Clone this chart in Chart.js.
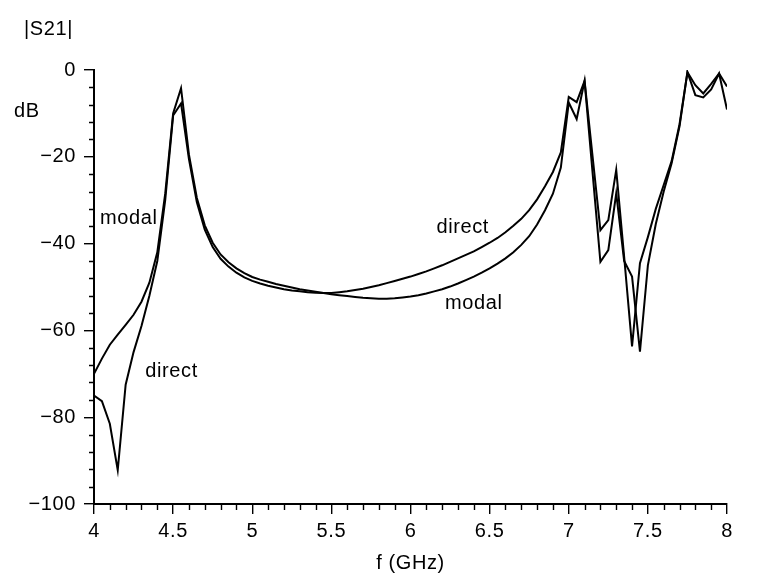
<!DOCTYPE html>
<html>
<head>
<meta charset="utf-8">
<script src="https://cdn.jsdelivr.net/npm/chart.js@4.4.1/dist/chart.umd.min.js"></script>
<style>
  html, body { margin: 0; padding: 0; background: #fff; }
  canvas { display: block; }
</style>
</head>
<body>
<canvas id="s21Chart" width="776" height="581"></canvas>
<script>
// -----------------------------
//  DATOS
// -----------------------------
const freq = [
  4.00, 4.05, 4.10, 4.15, 4.20, 4.25, 4.30, 4.35, 4.40, 4.45,
  4.50, 4.55, 4.60, 4.65, 4.70, 4.75, 4.80, 4.85, 4.90, 4.95,
  5.00, 5.05, 5.10, 5.15, 5.20, 5.25, 5.30, 5.35, 5.40, 5.45,
  5.50, 5.55, 5.60, 5.65, 5.70, 5.75, 5.80, 5.85, 5.90, 5.95,
  6.00, 6.05, 6.10, 6.15, 6.20, 6.25, 6.30, 6.35, 6.40, 6.45,
  6.50, 6.55, 6.60, 6.65, 6.70, 6.75, 6.80, 6.85, 6.90, 6.95,
  7.00, 7.05, 7.10, 7.15, 7.20, 7.25, 7.30, 7.35, 7.40, 7.45,
  7.50, 7.55, 7.60, 7.65, 7.70, 7.75, 7.80, 7.85, 7.90, 7.95,
  8.00
];

const modal = [
  -70.0, -66.5, -63.3, -61.0, -58.7, -56.4, -53.4, -49.0, -42.0, -28.5,
  -10.0, -4.2, -19.5, -29.5, -35.8, -39.8, -42.5, -44.3, -45.7, -46.8,
  -47.7, -48.3, -48.8, -49.3, -49.7, -50.1, -50.5, -50.8, -51.1, -51.4,
  -51.7, -51.9, -52.1, -52.3, -52.5, -52.6, -52.7, -52.7, -52.6, -52.4,
  -52.2, -51.9, -51.5, -51.0, -50.5, -49.9, -49.2, -48.4, -47.6, -46.7,
  -45.7, -44.6, -43.4, -42.0, -40.3, -38.3, -35.6, -32.3, -28.5, -22.5,
  -7.5, -11.3, -2.5, -23.4, -44.2, -41.5, -28.4, -44.0, -47.6, -64.9,
  -45.0, -35.5, -28.0, -21.5, -13.0, -0.5, -5.8, -6.3, -4.5, -0.8,
  -9.1
];

const direct = [
  -75.0, -76.3, -81.5, -92.2, -72.5, -65.0, -59.0, -52.0, -44.0, -30.0,
  -10.5, -7.7, -20.5, -30.5, -36.8, -40.8, -43.5, -45.3, -46.7, -47.8,
  -48.6, -49.2, -49.7, -50.1, -50.5, -50.8, -51.0, -51.2, -51.3, -51.4,
  -51.4, -51.2, -51.0, -50.7, -50.4, -50.0, -49.6, -49.1, -48.6, -48.1,
  -47.6, -47.0, -46.4, -45.7, -45.0, -44.2, -43.4, -42.6, -41.8, -40.8,
  -39.8, -38.7, -37.4, -35.9, -34.3, -32.3, -29.8, -26.8, -23.5, -19.0,
  -6.2, -7.4, -2.5, -19.7, -36.9, -34.6, -23.0, -43.0, -63.7, -44.5,
  -38.5, -32.0, -26.5, -21.0, -12.5, -0.5, -3.5, -5.4, -3.2, -0.8,
  -3.8
];

// etiquetas de curva (en coordenadas de datos: GHz, dB)
const curveLabels = [
  { text: "modal",  f: 4.22, db: -34.1 },
  { text: "direct", f: 4.49, db: -69.4 },
  { text: "direct", f: 6.33, db: -36.4 },
  { text: "modal",  f: 6.40, db: -53.7 }
];

const FONT = "Liberation Sans, Arial, Helvetica, sans-serif";
const FONT_SIZE = 20;

// -----------------------------
//  MARCAS MENORES Y TEXTOS
// -----------------------------
const extrasPlugin = {
  id: "extras",
  afterInit(chart) {
    chart.ctx.letterSpacing = "0.6px";
  },
  afterDraw(chart) {
    const { ctx, scales: { x, y } } = chart;
    ctx.save();
    ctx.strokeStyle = "#000";
    ctx.lineWidth = 1.4;
    ctx.beginPath();
    for (let i = 0; i <= 40; i++) {
      if (i % 5 === 0) continue;
      const px = Math.round(x.getPixelForValue(4 + i * 0.1)) + 0.5;
      ctx.moveTo(px, y.bottom);
      ctx.lineTo(px, y.bottom + 6);
    }
    for (let v = -100; v <= 0; v += 4) {
      if (v % 20 === 0) continue;
      const py = Math.round(y.getPixelForValue(v)) + 0.5;
      ctx.moveTo(x.left, py);
      ctx.lineTo(x.left - 5, py);
    }
    ctx.stroke();

    ctx.fillStyle = "#000";
    ctx.font = `${FONT_SIZE}px ${FONT}`;
    ctx.textAlign = "center";
    ctx.textBaseline = "middle";
    curveLabels.forEach(l => {
      ctx.fillText(l.text, x.getPixelForValue(l.f), y.getPixelForValue(l.db));
    });

    ctx.textAlign = "left";
    ctx.fillText("|S21|", 24, 29);
    ctx.fillText("dB", 14, 111);
    ctx.restore();
  }
};

// -----------------------------
//  GRÁFICA
// -----------------------------
const ctx = document.getElementById("s21Chart").getContext("2d");

const lineStyle = {
  borderColor: "#000",
  borderWidth: 2,
  pointRadius: 0,
  tension: 0,
  fill: false
};

new Chart(ctx, {
  type: "line",
  data: {
    datasets: [
      { label: "modal",  data: freq.map((f, i) => ({ x: f, y: modal[i] })),  ...lineStyle },
      { label: "direct", data: freq.map((f, i) => ({ x: f, y: direct[i] })), ...lineStyle }
    ]
  },
  options: {
    responsive: false,
    animation: false,
    layout: { padding: { top: 70, right: 49, left: 0, bottom: 0 } },
    plugins: {
      legend: { display: false },
      tooltip: { enabled: false }
    },
    scales: {
      x: {
        type: "linear",
        min: 4,
        max: 8,
        afterFit: s => { s.height = 77; },
        ticks: {
          stepSize: 0.5,
          color: "#000",
          padding: 5,
          maxRotation: 0,
          font: { family: FONT, size: FONT_SIZE },
          callback: v => String(v)
        },
        grid: { drawOnChartArea: false, tickLength: 10, color: "#000", lineWidth: 1.4 },
        border: { color: "#000", width: 2 },
        title: {
          display: true,
          text: "f (GHz)",
          color: "#000",
          font: { family: FONT, size: FONT_SIZE },
          padding: { top: 0, bottom: 6 }
        }
      },
      y: {
        min: -100,
        max: 0,
        afterFit: s => { s.width = 94; },
        ticks: {
          stepSize: 20,
          color: "#000",
          padding: 8,
          font: { family: FONT, size: FONT_SIZE },
          callback: v => String(v).replace("-", "\u2212")
        },
        grid: { drawOnChartArea: false, tickLength: 10, color: "#000", lineWidth: 1.4 },
        border: { color: "#000", width: 2 }
      }
    }
  },
  plugins: [extrasPlugin]
});
</script>
</body>
</html>
